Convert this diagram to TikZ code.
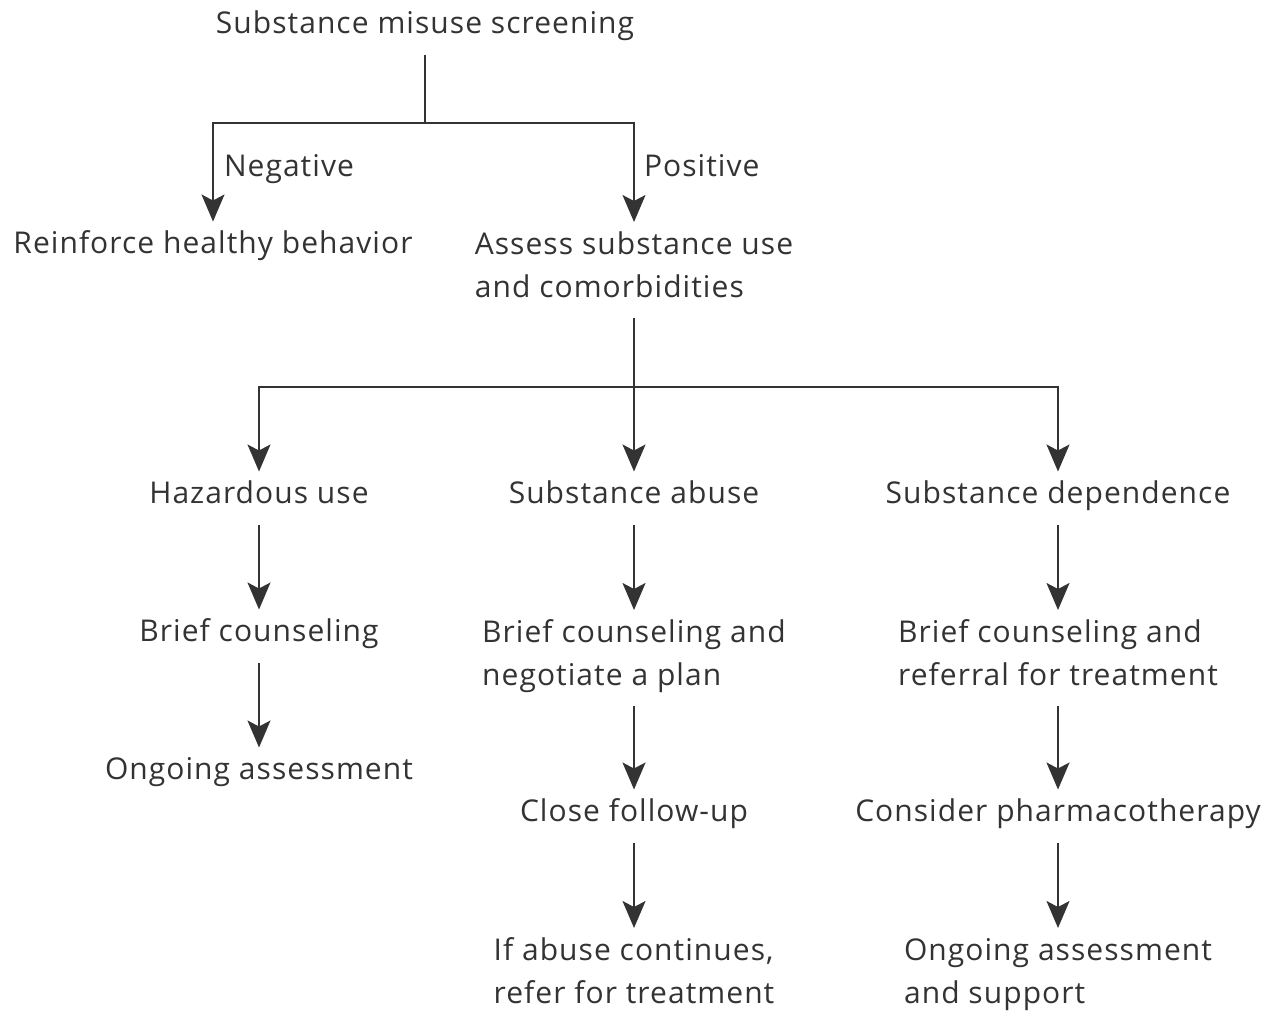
\documentclass[tikz,border=0pt]{standalone}
\usepackage{fontspec}
\setmainfont[LetterSpace=3.5]{Open Sans}
\usetikzlibrary{arrows.meta}
\definecolor{ink}{HTML}{333333}

\begin{document}
\begin{tikzpicture}[x=1pt,y=-1pt,
  every node/.style={inner sep=0pt, outer sep=0pt, text=ink, align=left, font=\fontsize{30}{43}\selectfont},
  link/.style={draw=ink, line width=1.7pt, shorten <=8pt},
  arr/.style={draw=ink, line width=1.7pt, shorten >=2pt, -{Stealth[length=27pt,width=23pt,inset=6pt]}}]
\useasboundingbox (0,0) rectangle (1268,1010);

\node (screen) at (425,25) {\strut Substance misuse screening};
\node[anchor=west] (neg) at (224,168) {\strut Negative};
\node[anchor=west] (pos) at (644,168) {\strut Positive};
\node (reinforce) at (213,245) {\strut Reinforce healthy behavior};
\node (assess) at (634,267) {\strut Assess substance use\\and comorbidities\strut};

\node (hazard) at (259,495) {\strut Hazardous use};
\node (abuse) at (634,495) {\strut Substance abuse};
\node (depend) at (1058,495) {\strut Substance dependence};

\node (brief) at (259,633) {\strut Brief counseling};
\node (ongoing) at (259,771) {\strut Ongoing assessment};

\node (plan) at (634,655) {\strut Brief counseling and\\negotiate a plan\strut};
\node (follow) at (634,813) {\strut Close follow-up};
\node (refer) at (634,973) {\strut If abuse continues,\\refer for treatment\strut};

\node (referral) at (1058,655) {\strut Brief counseling and\\referral for treatment\strut};
\node (pharma) at (1058,813) {\strut Consider pharmacotherapy};
\node (support) at (1058,973) {\strut Ongoing assessment\\and support\strut};

\coordinate (split) at (425,123);
\coordinate (fork) at (634,387);

\draw[link] (screen) -- (split);
\draw[arr] (split) -| (reinforce);
\draw[arr] (split) -| (assess);
\draw[link] (assess) -- (fork);
\draw[arr] (fork) -| (hazard);
\draw[arr] (fork) -- (abuse);
\draw[arr] (fork) -| (depend);

\draw[arr, shorten <=8pt] (hazard) -- (brief);
\draw[arr, shorten <=8pt] (brief) -- (ongoing);
\draw[arr, shorten <=8pt] (abuse) -- (plan);
\draw[arr, shorten <=8pt] (plan) -- (follow);
\draw[arr, shorten <=8pt] (follow) -- (refer);
\draw[arr, shorten <=8pt] (depend) -- (referral);
\draw[arr, shorten <=8pt] (referral) -- (pharma);
\draw[arr, shorten <=8pt] (pharma) -- (support);
\end{tikzpicture}
\end{document}
